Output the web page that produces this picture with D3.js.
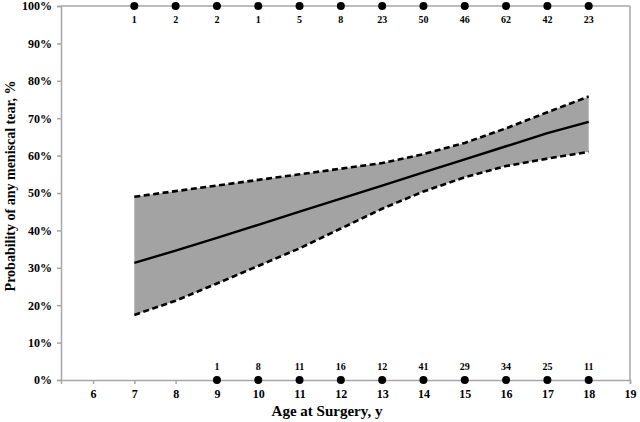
<!DOCTYPE html>
<html><head><meta charset="utf-8">
<script src="https://cdn.jsdelivr.net/npm/d3@7"></script>
<style>body{margin:0;background:#fff}svg{display:block}</style>
</head><body>
<svg id="c" width="640" height="422" font-family="'Liberation Serif','Times New Roman',serif" font-weight="bold"></svg>
<script>
const ages = [7,8,9,10,11,12,13,14,15,16,17,18];
const meanProb = [31.3,34.6,38,41.5,45,48.5,52,55.5,59,62.5,66,69];
const lowerCI = [17.4,21.2,25.8,30.5,35.2,40.5,45.8,50.4,54.2,57.2,59.2,61];
const upperCI = [49,50.5,52,53.5,55,56.5,58,60.4,63.4,67.3,71.6,75.8];
const topAges = [7,8,9,10,11,12,13,14,15,16,17,18];
const topCounts = [1,2,2,1,5,8,23,50,46,62,42,23];
const bottomAges = [9,10,11,12,13,14,15,16,17,18];
const bottomCounts = [1,8,11,16,12,41,29,34,25,11];
const xTicks = [6,7,8,9,10,11,12,13,14,15,16,17,18,19];
const yTicks = [0,10,20,30,40,50,60,70,80,90,100];

const FONT = "'Liberation Serif','Times New Roman',serif";
const svg = d3.select("#c");
const x = d3.scaleLinear().domain([5.225,19]).range([61,630]);
const y = d3.scaleLinear().domain([0,100]).range([380,6]);
const axisColor = "#a6a6a6";

// band
const band = ages.map((a,i)=>({a, lo:lowerCI[i], hi:upperCI[i], m:meanProb[i]}));
svg.append("path").datum(band)
  .attr("d", d3.area().x(d=>x(d.a)).y0(d=>y(d.lo)).y1(d=>y(d.hi)))
  .attr("fill","#a3a3a3");

// frame lines (top & right)
svg.append("line").attr("x1",x(5.225)).attr("x2",x(19)).attr("y1",y(100)).attr("y2",y(100)).attr("stroke",axisColor).attr("stroke-width",1.5);
svg.append("line").attr("x1",x(19)).attr("x2",x(19)).attr("y1",y(100)).attr("y2",y(0)).attr("stroke",axisColor).attr("stroke-width",1.5);

// axes
const yAxis = d3.axisLeft(y).tickValues(yTicks).tickSize(4).tickFormat(d=>d+"%");
const gy = svg.append("g").attr("transform",`translate(${x(5.225)},0)`).call(yAxis)
  .attr("font-family",FONT).attr("font-weight","bold").attr("font-size",12);
gy.select(".domain").attr("stroke",axisColor).attr("stroke-width",1.5);
gy.selectAll(".tick line").attr("stroke",axisColor).attr("stroke-width",1.5);
gy.selectAll("text").attr("dx",-2).attr("fill","#000");

const xAxis = d3.axisBottom(x).tickValues(xTicks).tickSize(4).tickSizeOuter(4).tickFormat(d3.format("d"));
const gx = svg.append("g").attr("transform",`translate(0,${y(0)})`).call(xAxis)
  .attr("font-family",FONT).attr("font-weight","bold").attr("font-size",12);
gx.select(".domain").attr("stroke",axisColor).attr("stroke-width",1.5);
gx.selectAll(".tick line").attr("stroke",axisColor).attr("stroke-width",1.5);
gx.selectAll("text").attr("dy","0.9em").attr("fill","#000");

// CI dashed lines
const lineLo = d3.line().x(d=>x(d.a)).y(d=>y(d.lo));
const lineHi = d3.line().x(d=>x(d.a)).y(d=>y(d.hi));
const lineM = d3.line().x(d=>x(d.a)).y(d=>y(d.m));
[lineLo,lineHi].forEach(l=>svg.append("path").datum(band).attr("d",l)
  .attr("fill","none").attr("stroke","#000").attr("stroke-width",2.6).attr("stroke-dasharray","6,3.5"));
svg.append("path").datum(band).attr("d",lineM).attr("fill","none").attr("stroke","#000").attr("stroke-width",2.4);

// top markers
svg.append("g").selectAll("circle").data(topAges).join("circle")
  .attr("cx",d=>x(d)).attr("cy",y(100)).attr("r",4).attr("fill","#000");
svg.append("g").selectAll("text").data(topAges).join("text")
  .attr("x",d=>x(d)).attr("y",y(100)+17).attr("text-anchor","middle").attr("font-size",10)
  .text((d,i)=>topCounts[i]);

// bottom markers
svg.append("g").selectAll("circle").data(bottomAges).join("circle")
  .attr("cx",d=>x(d)).attr("cy",y(0)).attr("r",4).attr("fill","#000");
svg.append("g").selectAll("text").data(bottomAges).join("text")
  .attr("x",d=>x(d)).attr("y",y(0)-10).attr("text-anchor","middle").attr("font-size",10)
  .text((d,i)=>bottomCounts[i]);

// titles
svg.append("text").attr("x",327).attr("y",416).attr("text-anchor","middle").attr("font-size",15).text("Age at Surgery, y");
svg.append("text").attr("transform","translate(15,186) rotate(-90)").attr("text-anchor","middle").attr("font-size",14).text("Probability of any meniscal tear, %");
</script>
</body></html>
